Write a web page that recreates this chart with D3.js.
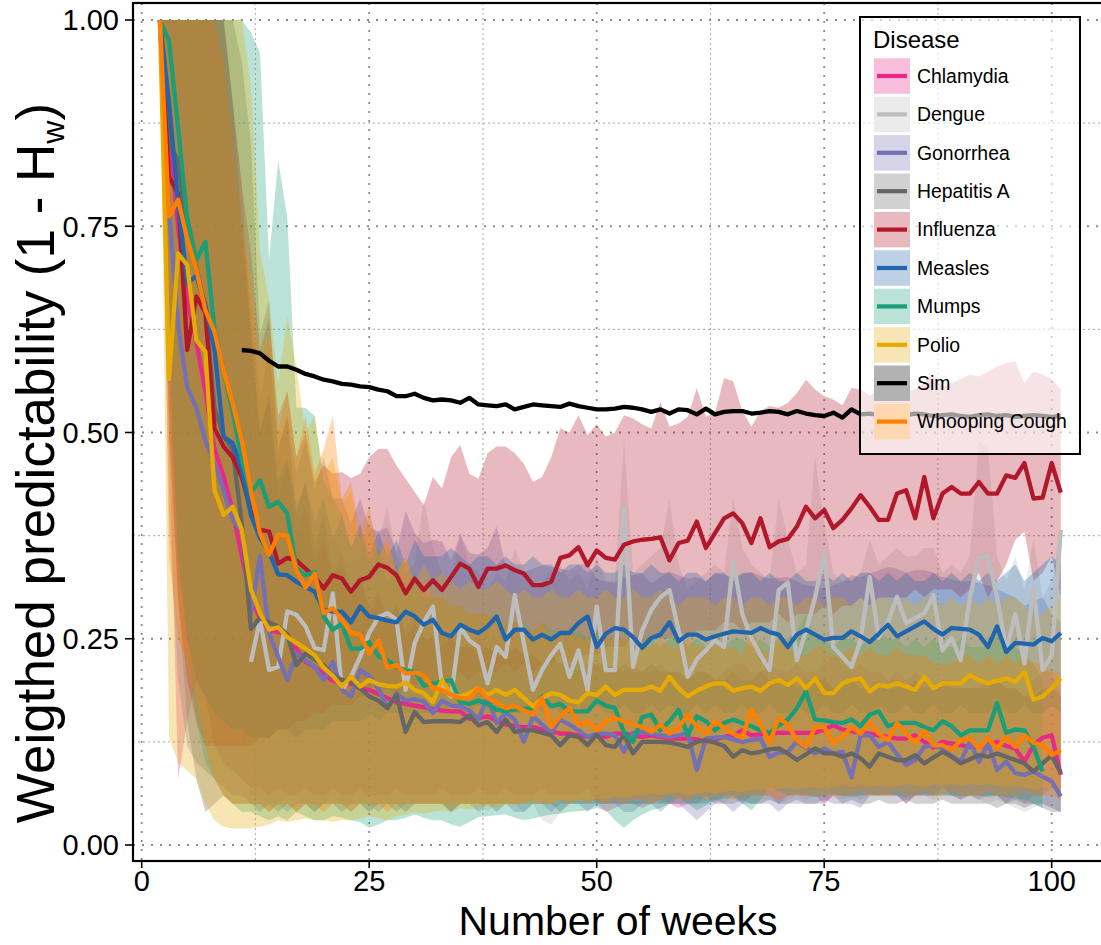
<!DOCTYPE html>
<html>
<head>
<meta charset="utf-8">
<script src="https://cdnjs.cloudflare.com/ajax/libs/d3/7.8.5/d3.min.js"></script>
<style>
    body { margin: 0; background: #fff; }
    svg { display: block; }
    text { font-family: "Liberation Sans", Arial, Helvetica, sans-serif; fill: #000; }
</style>
</head>
<body>
<div id="chart-area"></div>
<script>

// ---- data ----
// all disease series run week 2..101, Dengue starts at 12, Sim at 11, Mumps stops at 99

var diseaseNames = ["Chlamydia", "Dengue", "Gonorrhea", "Hepatitis A", "Influenza",
    "Measles", "Mumps", "Polio", "Sim", "Whooping Cough"];
var diseaseColors = ["#e7298a", "#bdbdbd", "#7570b3", "#666666", "#b2182b",
    "#2166ac", "#1b9e77", "#e6ab02", "#000000", "#ff7f00"];
var startWeek = [2, 12, 2, 2, 2, 2, 2, 2, 11, 2];

var xTickValues = [0, 25, 50, 75, 100];
var xMinorValues = [12.5, 37.5, 62.5, 87.5];
var yTickValues = [0, 0.25, 0.5, 0.75, 1];
var yMinorValues = [0.125, 0.375, 0.625, 0.875];
var yTickLabels = ["0.00", "0.25", "0.50", "0.75", "1.00"];

var chlamydiaMean = [1.0,0.87,0.75,0.66,0.61,0.55,0.48,0.447,0.405,0.35,
    0.30,0.275,0.26,0.258,0.255,0.238,0.222,0.216,0.207,0.199,
    0.197,0.195,0.19,0.188,0.183,0.178,0.173,0.171,0.169,0.167,
    0.165,0.163,0.162,0.162,0.153,0.154,0.156,0.151,0.146,0.144,
    0.143,0.143,0.140,0.138,0.135,0.135,0.133,0.131,0.133,0.131,
    0.135,0.135,0.133,0.131,0.133,0.131,0.129,0.129,0.129,0.128,
    0.125,0.128,0.131,0.133,0.139,0.133,0.134,0.135,0.136,0.136,
    0.136,0.136,0.136,0.14,0.145,0.14,0.138,0.136,0.135,0.133,
    0.131,0.129,0.129,0.133,0.125,0.118,0.125,0.123,0.121,0.119,
    0.119,0.121,0.125,0.12,0.117,0.101,0.121,0.13,0.133,0.085];
var chlamydiaLow = [1,0.5,0.08,0.15,0.2,0.18,0.12,0.1,0.09,0.08,
    0.07,0.07,0.06,0.07,0.06,0.06,0.07,0.06,0.06,0.07,
    0.06,0.06,0.07,0.06,0.06,0.06,0.07,0.06,0.06,0.06,
    0.06,0.07,0.06,0.06,0.06,0.07,0.06,0.06,0.07,0.06,
    0.06,0.06,0.07,0.06,0.06,0.06,0.06,0.07,0.05,0.04,
    0.045,0.05,0.05,0.045,0.05,0.055,0.05,0.045,0.05,0.05,
    0.06,0.05,0.06,0.06,0.05,0.06,0.06,0.06,0.05,0.06,
    0.06,0.06,0.06,0.05,0.06,0.06,0.06,0.06,0.06,0.06,
    0.06,0.06,0.05,0.06,0.06,0.06,0.07,0.06,0.06,0.06,
    0.06,0.06,0.06,0.05,0.06,0.05,0.06,0.06,0.07,0.06];
var chlamydiaHigh = [1,1,1,1,1,1,1,1,0.9,0.8,
    0.62,0.5,0.54,0.42,0.46,0.38,0.41,0.34,0.37,0.32,
    0.34,0.3,0.32,0.29,0.31,0.27,0.29,0.26,0.28,0.25,
    0.25,0.26,0.25,0.24,0.24,0.25,0.24,0.23,0.23,0.24,
    0.23,0.23,0.22,0.23,0.22,0.22,0.21,0.22,0.22,0.21,
    0.22,0.21,0.22,0.21,0.21,0.22,0.21,0.21,0.2,0.21,
    0.21,0.2,0.21,0.22,0.22,0.21,0.21,0.22,0.21,0.21,
    0.22,0.21,0.21,0.22,0.23,0.22,0.21,0.22,0.21,0.21,
    0.2,0.21,0.2,0.21,0.2,0.19,0.2,0.2,0.19,0.19,
    0.19,0.2,0.2,0.19,0.19,0.18,0.2,0.21,0.21,0.18];

var dengueMean = [0.222,0.273,0.212,0.216,0.283,0.279,0.265,0.239,0.236,0.305,
    0.188,0.204,0.228,0.257,0.276,0.281,0.273,0.188,0.245,0.27,
    0.289,0.192,0.18,0.264,0.248,0.24,0.196,0.24,0.228,0.303,
    0.244,0.188,0.212,0.23,0.244,0.204,0.236,0.188,0.289,0.212,
    0.212,0.408,0.216,0.26,0.285,0.30,0.309,0.26,0.204,0.225,
    0.236,0.248,0.24,0.345,0.28,0.251,0.23,0.212,0.309,0.318,
    0.224,0.26,0.30,0.354,0.24,0.228,0.216,0.248,0.325,0.251,
    0.27,0.301,0.269,0.275,0.281,0.303,0.236,0.251,0.224,0.3,
    0.348,0.35,0.3,0.236,0.28,0.22,0.313,0.212,0.23,0.382];
var dengueLow = [0.06,0.06,0.05,0.05,0.06,0.06,0.05,0.05,0.05,0.06,
    0.05,0.05,0.05,0.04,0.05,0.05,0.05,0.04,0.05,0.05,
    0.05,0.05,0.04,0.05,0.05,0.05,0.04,0.05,0.05,0.05,
    0.04,0.05,0.03,0.025,0.04,0.05,0.05,0.05,0.05,0.05,
    0.05,0.05,0.05,0.05,0.06,0.05,0.05,0.05,0.055,0.05,
    0.055,0.05,0.05,0.06,0.055,0.05,0.055,0.055,0.05,0.055,
    0.06,0.055,0.06,0.065,0.06,0.055,0.06,0.055,0.06,0.065,
    0.06,0.06,0.055,0.06,0.06,0.055,0.06,0.06,0.055,0.06,
    0.055,0.05,0.055,0.05,0.045,0.04,0.045,0.05,0.045,0.04];
var dengueHigh = [0.5,0.48,0.42,0.4,0.42,0.4,0.38,0.36,0.36,0.38,
    0.35,0.34,0.35,0.4,0.37,0.41,0.35,0.33,0.34,0.42,
    0.36,0.33,0.32,0.38,0.34,0.33,0.31,0.33,0.32,0.36,
    0.33,0.31,0.32,0.33,0.34,0.32,0.33,0.31,0.35,0.32,
    0.32,0.49,0.33,0.34,0.35,0.36,0.42,0.34,0.31,0.32,
    0.33,0.34,0.33,0.42,0.36,0.34,0.33,0.32,0.42,0.37,
    0.33,0.34,0.47,0.39,0.33,0.32,0.32,0.33,0.37,0.34,
    0.35,0.36,0.35,0.35,0.36,0.36,0.33,0.34,0.33,0.35,
    0.49,0.48,0.35,0.32,0.35,0.31,0.37,0.3,0.32,0.38];

var gonorrheaMean = [1.0,0.77,0.63,0.555,0.53,0.49,0.462,0.43,0.395,0.38,
    0.28,0.35,0.257,0.228,0.2,0.232,0.224,0.216,0.2,0.222,
    0.188,0.18,0.212,0.205,0.19,0.166,0.184,0.175,0.177,0.174,
    0.16,0.175,0.169,0.168,0.163,0.152,0.179,0.148,0.16,0.152,
    0.125,0.156,0.146,0.137,0.152,0.146,0.139,0.131,0.135,0.135,
    0.133,0.113,0.136,0.137,0.135,0.133,0.131,0.133,0.136,0.091,
    0.129,0.130,0.131,0.128,0.125,0.127,0.129,0.107,0.112,0.113,
    0.125,0.118,0.111,0.117,0.111,0.113,0.082,0.133,0.133,0.119,
    0.125,0.11,0.097,0.103,0.119,0.121,0.117,0.108,0.101,0.125,
    0.101,0.123,0.091,0.101,0.087,0.085,0.089,0.083,0.077,0.059];
var gonorrheaLow = [1,0.4,0.2,0.12,0.1,0.09,0.08,0.07,0.06,0.06,
    0.05,0.05,0.04,0.05,0.04,0.05,0.05,0.04,0.05,0.05,
    0.05,0.04,0.05,0.05,0.04,0.05,0.05,0.04,0.05,0.05,
    0.05,0.05,0.04,0.05,0.05,0.04,0.05,0.05,0.05,0.04,
    0.04,0.05,0.05,0.04,0.05,0.05,0.05,0.04,0.05,0.05,
    0.05,0.04,0.04,0.05,0.05,0.04,0.05,0.05,0.04,0.03,
    0.04,0.05,0.05,0.04,0.05,0.05,0.05,0.05,0.04,0.05,
    0.05,0.05,0.05,0.05,0.06,0.05,0.05,0.045,0.06,0.06,
    0.06,0.06,0.05,0.06,0.06,0.06,0.06,0.06,0.055,0.06,
    0.055,0.06,0.06,0.05,0.055,0.05,0.05,0.05,0.045,0.04];
var gonorrheaHigh = [1,1,1,1,1,1,1,0.95,0.85,0.75,
    0.65,0.54,0.6,0.48,0.52,0.45,0.49,0.43,0.47,0.42,
    0.42,0.39,0.42,0.385,0.38,0.385,0.355,0.405,0.378,0.366,
    0.37,0.368,0.345,0.376,0.354,0.352,0.36,0.386,0.339,0.337,
    0.331,0.335,0.339,0.337,0.335,0.333,0.34,0.341,0.323,0.319,
    0.318,0.325,0.327,0.329,0.317,0.325,0.331,0.327,0.323,0.325,
    0.319,0.329,0.327,0.325,0.328,0.331,0.326,0.323,0.324,0.325,
    0.32,0.315,0.313,0.311,0.315,0.319,0.327,0.325,0.329,0.333,
    0.337,0.335,0.33,0.333,0.333,0.33,0.325,0.322,0.319,0.32,
    0.318,0.315,0.31,0.305,0.3,0.29,0.295,0.3,0.28,0.27];

var hepatitisMean = [1.0,0.85,0.83,0.74,0.70,0.65,0.53,0.495,0.479,0.39,
    0.262,0.275,0.27,0.265,0.255,0.218,0.232,0.225,0.218,0.206,
    0.2,0.198,0.19,0.18,0.175,0.166,0.182,0.137,0.161,0.149,
    0.15,0.15,0.15,0.149,0.157,0.145,0.149,0.137,0.152,0.137,
    0.139,0.139,0.136,0.133,0.121,0.133,0.131,0.121,0.134,0.121,
    0.119,0.133,0.111,0.125,0.125,0.125,0.124,0.122,0.119,0.125,
    0.127,0.124,0.12,0.107,0.115,0.111,0.113,0.116,0.117,0.111,
    0.103,0.11,0.117,0.111,0.111,0.107,0.111,0.105,0.095,0.111,
    0.107,0.103,0.103,0.109,0.099,0.106,0.113,0.107,0.099,0.104,
    0.109,0.107,0.111,0.107,0.103,0.099,0.089,0.099,0.109,0.087];
var hepatitisLow = [1,0.55,0.3,0.15,0.08,0.04,0.05,0.06,0.05,0.05,
    0.05,0.04,0.05,0.04,0.05,0.04,0.05,0.04,0.05,0.05,
    0.04,0.05,0.05,0.04,0.05,0.05,0.04,0.05,0.05,0.05,
    0.05,0.05,0.04,0.05,0.05,0.05,0.05,0.04,0.05,0.05,
    0.05,0.05,0.05,0.05,0.04,0.05,0.05,0.05,0.05,0.05,
    0.05,0.05,0.05,0.05,0.05,0.05,0.05,0.05,0.05,0.05,
    0.05,0.055,0.05,0.05,0.055,0.05,0.05,0.055,0.05,0.05,
    0.055,0.05,0.05,0.055,0.05,0.05,0.055,0.05,0.05,0.055,
    0.05,0.05,0.055,0.05,0.05,0.05,0.055,0.05,0.05,0.05,
    0.05,0.05,0.045,0.05,0.05,0.045,0.05,0.045,0.04,0.04];
var hepatitisHigh = [1,1,1,1,1,1,1,1,1,0.95,
    0.85,0.62,0.66,0.48,0.52,0.4,0.44,0.36,0.4,0.33,
    0.35,0.3,0.33,0.28,0.3,0.27,0.29,0.25,0.27,0.25,
    0.25,0.24,0.25,0.24,0.24,0.23,0.24,0.23,0.23,0.24,
    0.23,0.23,0.22,0.23,0.22,0.22,0.22,0.21,0.22,0.22,
    0.21,0.22,0.21,0.21,0.22,0.21,0.21,0.21,0.2,0.21,
    0.21,0.2,0.2,0.21,0.2,0.2,0.21,0.2,0.2,0.2,
    0.19,0.2,0.2,0.2,0.19,0.2,0.2,0.19,0.19,0.2,
    0.19,0.19,0.19,0.2,0.19,0.19,0.2,0.19,0.19,0.19,
    0.19,0.19,0.2,0.19,0.19,0.18,0.18,0.19,0.19,0.18];

var influenzaMean = [1.0,0.81,0.79,0.60,0.665,0.645,0.505,0.483,0.47,0.446,
    0.405,0.382,0.38,0.341,0.348,0.345,0.335,0.325,0.311,0.327,
    0.323,0.307,0.321,0.325,0.34,0.336,0.327,0.305,0.323,0.309,
    0.321,0.309,0.325,0.341,0.335,0.313,0.335,0.335,0.339,0.333,
    0.329,0.315,0.315,0.319,0.348,0.351,0.361,0.339,0.357,0.348,
    0.346,0.364,0.368,0.370,0.371,0.373,0.345,0.366,0.369,0.392,
    0.360,0.378,0.396,0.402,0.390,0.366,0.396,0.361,0.368,0.371,
    0.386,0.410,0.396,0.406,0.384,0.394,0.408,0.424,0.41,0.394,
    0.394,0.426,0.43,0.396,0.446,0.396,0.426,0.434,0.426,0.426,
    0.44,0.426,0.426,0.448,0.445,0.463,0.420,0.421,0.463,0.427];
var influenzaLow = [1,0.5,0.3,0.2,0.15,0.12,0.12,0.12,0.12,0.12,
    0.12,0.13,0.13,0.14,0.14,0.15,0.15,0.16,0.16,0.17,
    0.17,0.17,0.18,0.18,0.18,0.19,0.18,0.19,0.19,0.2,
    0.2,0.2,0.2,0.21,0.2,0.21,0.21,0.21,0.22,0.21,
    0.22,0.21,0.22,0.22,0.23,0.22,0.23,0.23,0.23,0.24,
    0.24,0.24,0.25,0.24,0.25,0.25,0.25,0.26,0.25,0.26,
    0.26,0.26,0.27,0.27,0.26,0.27,0.27,0.27,0.28,0.27,
    0.28,0.28,0.28,0.29,0.28,0.29,0.29,0.3,0.29,0.3,
    0.3,0.3,0.3,0.31,0.3,0.31,0.31,0.31,0.3,0.31,
    0.33,0.3,0.32,0.34,0.37,0.38,0.32,0.33,0.35,0.3];
var influenzaHigh = [1,1,1,1,1,1,1,1,0.9,0.8,
    0.72,0.6,0.64,0.52,0.55,0.47,0.5,0.44,0.46,0.45,
    0.452,0.445,0.45,0.47,0.48,0.48,0.46,0.444,0.428,0.412,
    0.446,0.432,0.47,0.485,0.45,0.444,0.475,0.483,0.483,0.475,
    0.462,0.44,0.446,0.47,0.505,0.5,0.521,0.497,0.51,0.495,
    0.5,0.521,0.517,0.51,0.505,0.537,0.507,0.511,0.519,0.554,
    0.519,0.524,0.566,0.562,0.526,0.507,0.526,0.532,0.53,0.536,
    0.548,0.564,0.552,0.544,0.54,0.533,0.554,0.552,0.545,0.55,
    0.552,0.56,0.55,0.552,0.56,0.57,0.555,0.56,0.565,0.57,
    0.568,0.574,0.58,0.584,0.586,0.56,0.574,0.57,0.565,0.552];

var measlesMean = [1.0,0.90,0.78,0.68,0.69,0.655,0.60,0.495,0.487,0.455,
    0.40,0.372,0.355,0.328,0.327,0.319,0.313,0.307,0.285,0.283,
    0.283,0.270,0.289,0.277,0.275,0.272,0.270,0.283,0.277,0.267,
    0.273,0.257,0.253,0.267,0.261,0.257,0.265,0.277,0.249,0.261,
    0.261,0.249,0.255,0.249,0.257,0.257,0.269,0.277,0.240,0.256,
    0.263,0.261,0.252,0.239,0.251,0.255,0.270,0.247,0.255,0.255,
    0.249,0.253,0.256,0.259,0.258,0.257,0.263,0.258,0.255,0.240,
    0.255,0.261,0.255,0.249,0.251,0.251,0.259,0.253,0.246,0.256,
    0.267,0.253,0.259,0.265,0.271,0.262,0.255,0.263,0.262,0.261,
    0.255,0.240,0.265,0.234,0.245,0.244,0.243,0.251,0.247,0.257];
var measlesLow = [1,0.6,0.35,0.25,0.2,0.18,0.16,0.15,0.14,0.14,
    0.13,0.13,0.13,0.14,0.14,0.13,0.14,0.14,0.14,0.15,
    0.15,0.15,0.15,0.16,0.15,0.16,0.16,0.16,0.16,0.16,
    0.16,0.16,0.17,0.16,0.16,0.17,0.16,0.16,0.17,0.16,
    0.16,0.17,0.16,0.17,0.16,0.16,0.17,0.16,0.17,0.16,
    0.16,0.17,0.16,0.16,0.17,0.16,0.17,0.16,0.16,0.17,
    0.16,0.17,0.16,0.16,0.17,0.16,0.16,0.17,0.16,0.16,
    0.17,0.16,0.16,0.17,0.16,0.16,0.17,0.16,0.16,0.17,
    0.16,0.16,0.17,0.16,0.16,0.17,0.16,0.16,0.17,0.16,
    0.16,0.16,0.17,0.16,0.16,0.17,0.16,0.16,0.17,0.16];
var measlesHigh = [1,1,1,1,1,1,1,1,0.9,0.75,
    0.62,0.5,0.55,0.44,0.47,0.41,0.44,0.39,0.42,0.37,
    0.4,0.36,0.39,0.35,0.38,0.35,0.37,0.34,0.37,0.35,
    0.35,0.35,0.36,0.35,0.34,0.35,0.35,0.34,0.35,0.34,
    0.34,0.35,0.34,0.34,0.33,0.34,0.34,0.33,0.34,0.33,
    0.33,0.34,0.33,0.33,0.34,0.33,0.33,0.32,0.33,0.33,
    0.32,0.33,0.33,0.32,0.33,0.33,0.32,0.33,0.32,0.32,
    0.33,0.32,0.32,0.33,0.32,0.33,0.32,0.33,0.33,0.32,
    0.33,0.32,0.33,0.32,0.32,0.33,0.32,0.33,0.32,0.33,
    0.32,0.33,0.32,0.33,0.34,0.32,0.33,0.34,0.35,0.34];

var mumpsMean = [1.0,0.975,0.87,0.76,0.709,0.731,0.625,0.575,0.525,0.467,
    0.427,0.442,0.410,0.416,0.402,0.335,0.327,0.331,0.277,0.261,
    0.268,0.238,0.238,0.246,0.229,0.224,0.216,0.212,0.21,0.193,
    0.196,0.198,0.200,0.173,0.171,0.175,0.171,0.164,0.162,0.164,
    0.165,0.166,0.180,0.168,0.171,0.162,0.162,0.162,0.175,0.169,
    0.166,0.136,0.125,0.155,0.158,0.139,0.150,0.164,0.133,0.156,
    0.150,0.139,0.148,0.152,0.148,0.144,0.139,0.136,0.145,0.152,
    0.166,0.186,0.152,0.151,0.149,0.148,0.152,0.144,0.158,0.162,
    0.144,0.148,0.148,0.148,0.143,0.139,0.15,0.144,0.133,0.139,
    0.139,0.139,0.172,0.136,0.140,0.139,0.119,0.089];
var mumpsLow = [1,0.6,0.35,0.25,0.15,0.1,0.08,0.06,0.05,0.04,
    0.04,0.035,0.03,0.035,0.03,0.04,0.035,0.03,0.03,0.035,
    0.033,0.03,0.028,0.021,0.025,0.03,0.03,0.033,0.037,0.033,
    0.03,0.03,0.025,0.022,0.028,0.034,0.035,0.036,0.037,0.033,
    0.03,0.032,0.035,0.037,0.038,0.04,0.041,0.042,0.045,0.042,
    0.03,0.021,0.03,0.037,0.042,0.045,0.05,0.058,0.05,0.042,
    0.048,0.054,0.056,0.058,0.05,0.042,0.055,0.07,0.065,0.06,
    0.062,0.06,0.058,0.06,0.062,0.06,0.058,0.06,0.062,0.06,
    0.062,0.06,0.058,0.06,0.062,0.06,0.062,0.06,0.058,0.06,
    0.06,0.058,0.06,0.058,0.056,0.055,0.05,0.045];
var mumpsHigh = [1,1,1,1,1,1,1,1,1,1,
    0.985,0.96,0.71,0.83,0.76,0.53,0.53,0.52,0.44,0.42,
    0.4,0.36,0.38,0.34,0.36,0.32,0.34,0.31,0.33,0.3,
    0.3,0.3,0.29,0.29,0.28,0.28,0.28,0.27,0.27,0.27,
    0.27,0.26,0.27,0.26,0.26,0.26,0.26,0.25,0.26,0.25,
    0.25,0.25,0.24,0.25,0.25,0.24,0.25,0.26,0.24,0.25,
    0.24,0.25,0.24,0.25,0.25,0.24,0.25,0.24,0.25,0.25,
    0.26,0.28,0.25,0.25,0.24,0.25,0.25,0.24,0.25,0.26,
    0.25,0.25,0.24,0.25,0.24,0.25,0.24,0.24,0.25,0.24,
    0.24,0.24,0.27,0.24,0.24,0.23,0.22,0.2];

var polioMean = [1.0,0.565,0.717,0.703,0.612,0.598,0.43,0.40,0.41,0.382,
    0.31,0.281,0.261,0.264,0.252,0.245,0.238,0.23,0.215,0.205,
    0.192,0.204,0.192,0.200,0.195,0.193,0.192,0.197,0.188,0.184,
    0.173,0.200,0.182,0.180,0.184,0.190,0.182,0.188,0.182,0.188,
    0.178,0.168,0.178,0.184,0.182,0.175,0.173,0.184,0.182,0.192,
    0.182,0.188,0.188,0.188,0.192,0.187,0.204,0.190,0.180,0.187,
    0.192,0.196,0.196,0.187,0.190,0.192,0.187,0.196,0.200,0.194,
    0.202,0.190,0.202,0.184,0.184,0.196,0.200,0.202,0.186,0.194,
    0.192,0.196,0.192,0.188,0.204,0.190,0.196,0.196,0.196,0.206,
    0.200,0.196,0.199,0.202,0.198,0.21,0.176,0.18,0.19,0.202];
var polioLow = [1,0.13,0.1,0.09,0.08,0.05,0.03,0.022,0.02,0.02,
    0.02,0.022,0.025,0.03,0.028,0.03,0.032,0.03,0.03,0.028,
    0.03,0.03,0.032,0.035,0.033,0.03,0.035,0.037,0.04,0.038,
    0.04,0.042,0.04,0.045,0.043,0.045,0.047,0.045,0.05,0.048,
    0.05,0.05,0.052,0.05,0.055,0.053,0.055,0.055,0.057,0.055,
    0.06,0.058,0.06,0.06,0.062,0.06,0.062,0.064,0.06,0.062,
    0.065,0.063,0.065,0.066,0.064,0.066,0.068,0.066,0.068,0.07,
    0.068,0.07,0.07,0.068,0.07,0.072,0.07,0.072,0.07,0.072,
    0.07,0.072,0.074,0.072,0.07,0.074,0.072,0.074,0.072,0.074,
    0.072,0.074,0.072,0.07,0.072,0.07,0.068,0.07,0.068,0.066];
var polioHigh = [1,1,1,1,1,1,1,1,1,1,
    0.92,0.72,0.66,0.56,0.64,0.58,0.5,0.52,0.45,0.47,
    0.41,0.43,0.37,0.39,0.35,0.37,0.33,0.35,0.32,0.34,
    0.32,0.33,0.32,0.31,0.32,0.31,0.31,0.32,0.31,0.3,
    0.31,0.3,0.3,0.31,0.3,0.3,0.31,0.3,0.3,0.31,
    0.3,0.3,0.31,0.3,0.3,0.31,0.3,0.29,0.3,0.3,
    0.3,0.29,0.3,0.3,0.29,0.3,0.3,0.29,0.3,0.3,
    0.29,0.3,0.3,0.29,0.3,0.3,0.29,0.3,0.29,0.3,
    0.3,0.29,0.3,0.29,0.3,0.3,0.29,0.3,0.29,0.3,
    0.29,0.3,0.29,0.3,0.3,0.29,0.28,0.28,0.29,0.3];

var simMean = [0.600,0.599,0.596,0.587,0.580,0.580,0.576,0.571,0.568,0.564,
    0.562,0.559,0.558,0.556,0.555,0.552,0.550,0.544,0.544,0.547,
    0.542,0.539,0.540,0.539,0.536,0.542,0.534,0.533,0.532,0.534,
    0.528,0.531,0.534,0.533,0.532,0.531,0.535,0.532,0.530,0.528,
    0.528,0.529,0.531,0.530,0.528,0.525,0.528,0.523,0.528,0.527,
    0.522,0.529,0.522,0.525,0.526,0.526,0.523,0.524,0.526,0.525,
    0.522,0.526,0.523,0.521,0.520,0.524,0.518,0.528,0.522,0.523,
    0.521,0.522,0.520,0.521,0.523,0.522,0.520,0.521,0.522,0.520,
    0.519,0.521,0.522,0.520,0.521,0.519,0.520,0.521,0.520,0.519,0.520];

var whoopingMean = [1.0,0.762,0.782,0.735,0.698,0.648,0.622,0.575,0.535,0.49,
    0.43,0.378,0.352,0.376,0.375,0.333,0.312,0.329,0.281,0.287,
    0.273,0.257,0.255,0.232,0.248,0.215,0.218,0.208,0.209,0.205,
    0.19,0.188,0.182,0.178,0.178,0.19,0.178,0.173,0.166,0.168,
    0.163,0.158,0.178,0.143,0.156,0.166,0.145,0.15,0.139,0.150,
    0.154,0.150,0.146,0.143,0.137,0.146,0.135,0.142,0.158,0.143,
    0.135,0.150,0.142,0.135,0.130,0.164,0.146,0.124,0.154,0.146,
    0.127,0.119,0.143,0.143,0.124,0.131,0.143,0.135,0.148,0.135,
    0.127,0.148,0.135,0.124,0.138,0.121,0.121,0.115,0.127,0.129,
    0.117,0.129,0.117,0.131,0.119,0.133,0.124,0.121,0.109,0.115];
var whoopingLow = [1,0.35,0.25,0.22,0.18,0.12,0.08,0.06,0.05,0.05,
    0.05,0.05,0.04,0.05,0.05,0.04,0.05,0.05,0.04,0.05,
    0.05,0.04,0.05,0.05,0.05,0.04,0.05,0.05,0.05,0.05,
    0.05,0.05,0.05,0.05,0.05,0.05,0.05,0.05,0.05,0.05,
    0.05,0.055,0.05,0.05,0.055,0.05,0.055,0.05,0.055,0.05,
    0.055,0.05,0.055,0.055,0.05,0.055,0.06,0.055,0.055,0.06,
    0.055,0.06,0.06,0.055,0.06,0.06,0.06,0.06,0.055,0.06,
    0.06,0.06,0.06,0.06,0.06,0.06,0.06,0.065,0.06,0.06,
    0.06,0.065,0.06,0.06,0.065,0.06,0.06,0.065,0.06,0.06,
    0.06,0.065,0.06,0.06,0.06,0.065,0.06,0.06,0.06,0.055];
var whoopingHigh = [1,1,1,1,1,1,1,0.95,0.85,0.75,
    0.68,0.58,0.62,0.5,0.55,0.47,0.52,0.45,0.48,0.52,
    0.42,0.44,0.38,0.41,0.35,0.37,0.33,0.35,0.31,0.32,
    0.3,0.3,0.29,0.29,0.28,0.28,0.28,0.27,0.27,0.27,
    0.26,0.26,0.27,0.25,0.26,0.26,0.25,0.25,0.24,0.25,
    0.25,0.25,0.24,0.24,0.24,0.25,0.24,0.24,0.25,0.24,
    0.24,0.25,0.24,0.24,0.23,0.26,0.24,0.23,0.25,0.24,
    0.23,0.23,0.24,0.24,0.23,0.23,0.24,0.23,0.24,0.23,
    0.23,0.24,0.23,0.23,0.23,0.22,0.22,0.22,0.23,0.23,
    0.22,0.23,0.22,0.23,0.22,0.23,0.22,0.22,0.21,0.21];

var meanValues = [chlamydiaMean, dengueMean, gonorrheaMean, hepatitisMean, influenzaMean,
    measlesMean, mumpsMean, polioMean, simMean, whoopingMean];
var lowValues = [chlamydiaLow, dengueLow, gonorrheaLow, hepatitisLow, influenzaLow,
    measlesLow, mumpsLow, polioLow, null, whoopingLow];
var highValues = [chlamydiaHigh, dengueHigh, gonorrheaHigh, hepatitisHigh, influenzaHigh,
    measlesHigh, mumpsHigh, polioHigh, null, whoopingHigh];


/*
 * PredictVis - weighted predictability per disease over the number of weeks
 */
PredictVis = function(_parentElement){
    this.parentElement = _parentElement;
    this.initVis();
}

PredictVis.prototype.initVis = function(){
    var vis = this;

    vis.width = 1101;
    vis.height = 945;
    vis.panel = {left: 133, right: 1104, top: 3, bottom: 861};

    vis.svg = d3.select("#" + vis.parentElement).append("svg")
        .attr("width", vis.width)
        .attr("height", vis.height);

    vis.x = d3.scaleLinear().domain([0, 100]).range([141.7, 1051.7]);
    vis.y = d3.scaleLinear().domain([0, 1]).range([845, 20]);

    vis.svg.append("defs").append("clipPath").attr("id", "panel-clip")
        .append("rect")
        .attr("x", vis.panel.left).attr("y", vis.panel.top)
        .attr("width", vis.panel.right - vis.panel.left)
        .attr("height", vis.panel.bottom - vis.panel.top);

    // grid
    var grid = vis.svg.append("g").attr("class", "grid");
    grid.selectAll(".minor-x").data(xMinorValues).enter().append("line")
        .attr("x1", d => vis.x(d)).attr("x2", d => vis.x(d))
        .attr("y1", vis.panel.top).attr("y2", vis.panel.bottom)
        .attr("stroke", "#b5b5b5").attr("stroke-width", 1.2).attr("stroke-dasharray", "2,3");
    grid.selectAll(".minor-y").data(yMinorValues).enter().append("line")
        .attr("y1", d => vis.y(d)).attr("y2", d => vis.y(d))
        .attr("x1", vis.panel.left).attr("x2", vis.panel.right)
        .attr("stroke", "#b5b5b5").attr("stroke-width", 1.2).attr("stroke-dasharray", "2,3");
    grid.selectAll(".major-x").data(xTickValues).enter().append("line")
        .attr("x1", d => vis.x(d)).attr("x2", d => vis.x(d))
        .attr("y1", vis.panel.top).attr("y2", vis.panel.bottom)
        .attr("stroke", "#8c8c8c").attr("stroke-width", 1.8).attr("stroke-dasharray", "2,7");
    grid.selectAll(".major-y").data(yTickValues).enter().append("line")
        .attr("y1", d => vis.y(d)).attr("y2", d => vis.y(d))
        .attr("x1", vis.panel.left).attr("x2", vis.panel.right)
        .attr("stroke", "#8c8c8c").attr("stroke-width", 1.8).attr("stroke-dasharray", "2,7");

    vis.ribbonGroup = vis.svg.append("g").attr("clip-path", "url(#panel-clip)");
    vis.lineGroup = vis.svg.append("g").attr("clip-path", "url(#panel-clip)");

    vis.wrangleData();
}

PredictVis.prototype.wrangleData = function(){
    var vis = this;

    vis.displayData = diseaseNames.map(function(name, i){
        var pts = meanValues[i].map(function(v, j){
            return {
                week: startWeek[i] + j,
                mean: v,
                low: lowValues[i] ? lowValues[i][j] : null,
                high: highValues[i] ? highValues[i][j] : null
            };
        });
        return {name: name, color: diseaseColors[i], values: pts, hasRibbon: lowValues[i] != null};
    });

    vis.updateVis();
}

PredictVis.prototype.updateVis = function(){
    var vis = this;

    var area = d3.area()
        .x(d => vis.x(d.week))
        .y0(d => vis.y(d.low))
        .y1(d => vis.y(d.high));

    var line = d3.line()
        .x(d => vis.x(d.week))
        .y(d => vis.y(d.mean));

    vis.ribbonGroup.selectAll("path")
        .data(vis.displayData.filter(d => d.hasRibbon))
        .join("path")
        .attr("d", d => area(d.values))
        .attr("fill", d => d.color)
        .attr("fill-opacity", 0.3)
        .attr("stroke", "none");

    vis.lineGroup.selectAll("path")
        .data(vis.displayData)
        .join("path")
        .attr("d", d => line(d.values))
        .attr("fill", "none")
        .attr("stroke", d => d.color)
        .attr("stroke-width", 4.3)
        .attr("stroke-linejoin", "round");

    // panel border
    vis.svg.append("rect")
        .attr("x", vis.panel.left).attr("y", vis.panel.top)
        .attr("width", vis.panel.right - vis.panel.left)
        .attr("height", vis.panel.bottom - vis.panel.top)
        .attr("fill", "none").attr("stroke", "#000").attr("stroke-width", 2.2);

    // axes
    var xAxis = vis.svg.append("g");
    xAxis.selectAll("line").data(xTickValues).enter().append("line")
        .attr("x1", d => vis.x(d)).attr("x2", d => vis.x(d))
        .attr("y1", vis.panel.bottom).attr("y2", vis.panel.bottom + 7)
        .attr("stroke", "#000").attr("stroke-width", 1.6);
    xAxis.selectAll("text").data(xTickValues).enter().append("text")
        .attr("x", d => vis.x(d)).attr("y", 891)
        .attr("text-anchor", "middle")
        .style("font-size", "29px")
        .text(d => d);

    var yAxis = vis.svg.append("g");
    yAxis.selectAll("line").data(yTickValues).enter().append("line")
        .attr("y1", d => vis.y(d)).attr("y2", d => vis.y(d))
        .attr("x1", vis.panel.left - 8).attr("x2", vis.panel.left)
        .attr("stroke", "#000").attr("stroke-width", 1.6);
    yAxis.selectAll("text").data(yTickValues).enter().append("text")
        .attr("x", 119).attr("y", d => vis.y(d))
        .attr("dy", "0.36em")
        .attr("text-anchor", "end")
        .style("font-size", "29px")
        .text((d, i) => yTickLabels[i]);

    vis.svg.append("text")
        .attr("x", 618).attr("y", 935)
        .attr("text-anchor", "middle")
        .style("font-size", "41px")
        .text("Number of weeks");

    var yTitle = vis.svg.append("text")
        .attr("transform", "translate(54,463) rotate(-90)")
        .attr("text-anchor", "middle")
        .style("font-size", "53px");
    yTitle.append("tspan").text("Weigthed predictability (1 - H");
    yTitle.append("tspan").attr("dy", 10).style("font-size", "32px").text("w");
    yTitle.append("tspan").attr("dy", -10).text(")");

    // legend
    var lg = vis.svg.append("g").attr("class", "legend");
    lg.append("rect")
        .attr("x", 860).attr("y", 17).attr("width", 220).attr("height", 437)
        .attr("fill", "#fff").attr("fill-opacity", 0.6)
        .attr("stroke", "#000").attr("stroke-width", 2);
    lg.append("text").attr("x", 873).attr("y", 48)
        .style("font-size", "24px").text("Disease");

    var items = lg.selectAll(".item").data(vis.displayData).enter().append("g")
        .attr("transform", (d, i) => "translate(874," + (58.3 + 38.4 * i) + ")");
    items.append("rect")
        .attr("width", 36).attr("height", 35.5).attr("fill", "#fff");
    items.append("rect")
        .attr("width", 36).attr("height", 35.5)
        .attr("fill", d => d.color).attr("fill-opacity", 0.3);
    items.append("line")
        .attr("x1", 3).attr("x2", 33).attr("y1", 17.7).attr("y2", 17.7)
        .attr("stroke", d => d.color).attr("stroke-width", 4.2);
    items.append("text")
        .attr("x", 43).attr("y", 24.5)
        .style("font-size", "19.4px")
        .text(d => d.name);
}

var predictVis = new PredictVis("chart-area");

</script>
</body>
</html>
